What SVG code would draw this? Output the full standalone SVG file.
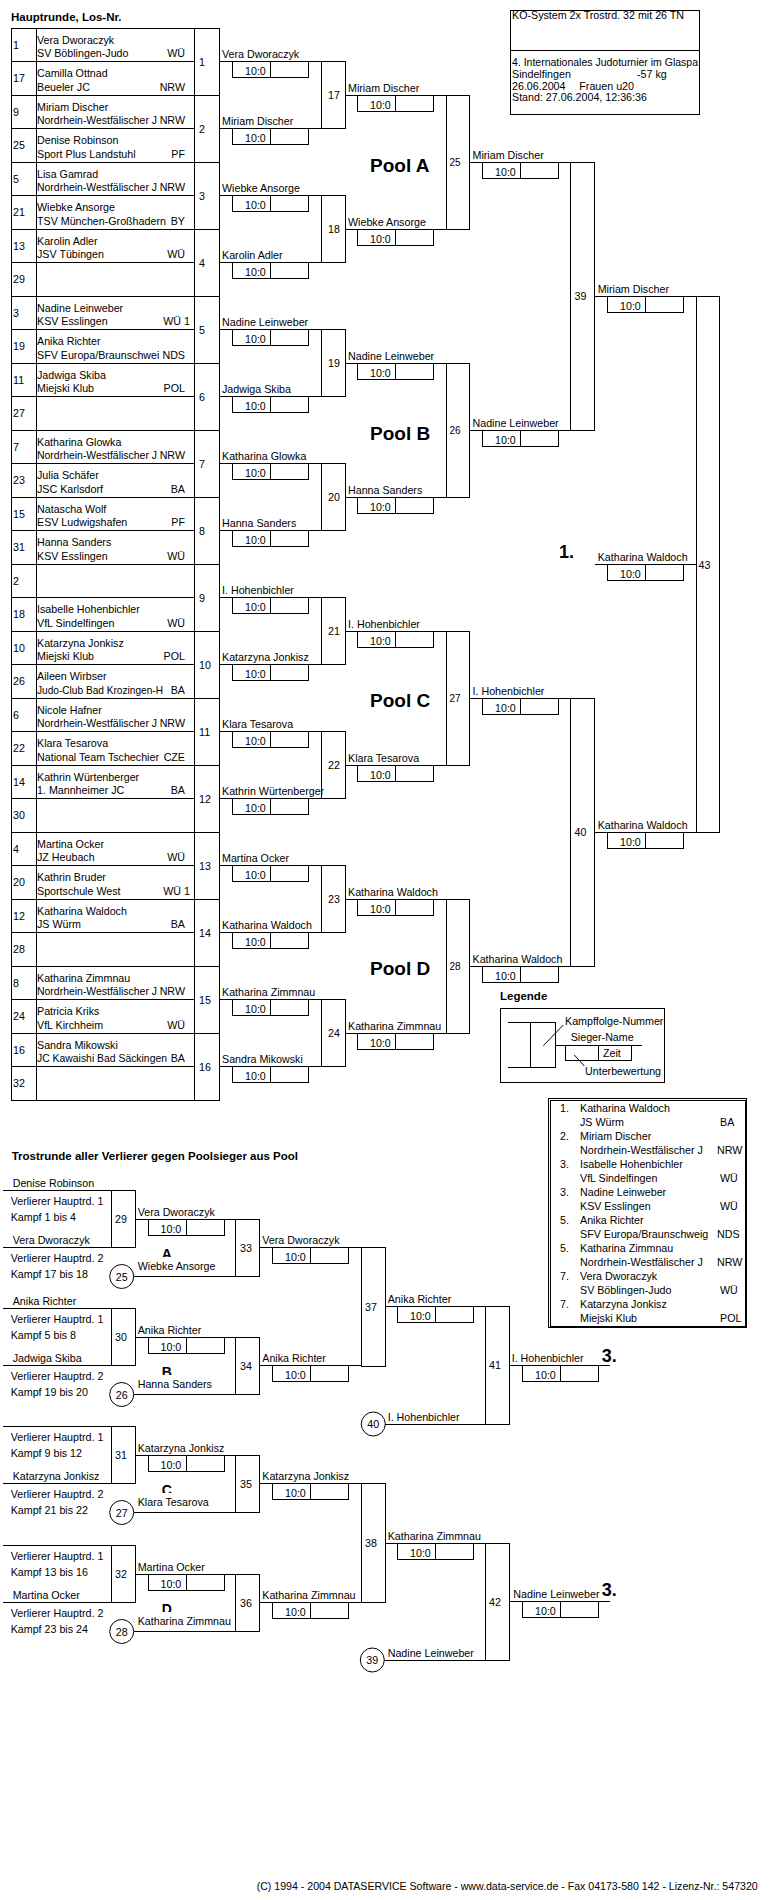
<svg xmlns="http://www.w3.org/2000/svg" width="770" height="1900" viewBox="0 0 770 1900" shape-rendering="crispEdges">
<style>
text{font-family:"Liberation Sans",Arial,Helvetica,sans-serif;font-size:10.7px;fill:#000;stroke:none}
.b{font-weight:bold}
.h{font-weight:bold;font-size:11.5px}
.e{text-anchor:end}
.m{text-anchor:middle}
.k{font-size:10px}
.pool{font-weight:bold;font-size:19px}
.rk{font-weight:bold;font-size:18px}
.pl{font-weight:bold;font-size:14px}
rect,path,circle{fill:none;stroke:#000;stroke-width:1}
circle{shape-rendering:geometricPrecision}
.w{fill:#fff;stroke:none}
</style>
<rect class="w" x="0" y="0" width="770" height="1900"/>

<text class="h" x="11" y="20.5">Hauptrunde, Los-Nr.</text>

<g id="header">
<rect x="510" y="10" width="189" height="104"/>
<path d="M510,50H699"/>
<text x="512" y="18.5">KO-System 2x Trostrd. 32 mit 26 TN</text>
<text x="512" y="66" textLength="186" lengthAdjust="spacingAndGlyphs">4. Internationales Judoturnier im Glaspa</text>
<text x="512" y="78">Sindelfingen</text>
<text x="637" y="78">-57 kg</text>
<text x="512" y="89.5">26.06.2004</text>
<text x="579.3" y="89.5">Frauen u20</text>
<text x="512" y="101">Stand: 27.06.2004, 12:36:36</text>
</g>

<g id="draw-table">
<rect x="11" y="28" width="208" height="1072"/>
<path d="M11,61.5H194M11,95H219M11,128.5H194M11,162H219M11,195.5H194M11,229H219M11,262.5H194M11,296H219M11,329.5H194M11,363H219M11,396.5H194M11,430H219M11,463.5H194M11,497H219M11,530.5H194M11,564H219M11,597.5H194M11,631H219M11,664.5H194M11,698H219M11,731.5H194M11,765H219M11,798.5H194M11,832H219M11,865.5H194M11,899H219M11,932.5H194M11,966H219M11,999.5H194M11,1033H219M11,1066.5H194M36,28V1100M194,28V1100"/>
</g>

<g id="entries">
<g id="los-1" transform="translate(0,28)"><text x="13" y="20.75">1</text><text x="37" y="15.5">Vera Dworaczyk</text><text x="37" y="29">SV Böblingen-Judo</text><text class="e" x="185" y="29">WÜ</text></g>
<g id="los-17" transform="translate(0,61.5)"><text x="13" y="20.75">17</text><text x="37" y="15.5">Camilla Ottnad</text><text x="37" y="29">Beueler JC</text><text class="e" x="185" y="29">NRW</text></g>
<g id="los-9" transform="translate(0,95)"><text x="13" y="20.75">9</text><text x="37" y="15.5">Miriam Discher</text><text x="37" y="29" textLength="120" lengthAdjust="spacingAndGlyphs">Nordrhein-Westfälischer J</text><text class="e" x="185" y="29">NRW</text></g>
<g id="los-25" transform="translate(0,128.5)"><text x="13" y="20.75">25</text><text x="37" y="15.5">Denise Robinson</text><text x="37" y="29">Sport Plus Landstuhl</text><text class="e" x="185" y="29">PF</text></g>
<g id="los-5" transform="translate(0,162)"><text x="13" y="20.75">5</text><text x="37" y="15.5">Lisa Gamrad</text><text x="37" y="29" textLength="120" lengthAdjust="spacingAndGlyphs">Nordrhein-Westfälischer J</text><text class="e" x="185" y="29">NRW</text></g>
<g id="los-21" transform="translate(0,195.5)"><text x="13" y="20.75">21</text><text x="37" y="15.5">Wiebke Ansorge</text><text x="37" y="29">TSV München-Großhadern</text><text class="e" x="185" y="29">BY</text></g>
<g id="los-13" transform="translate(0,229)"><text x="13" y="20.75">13</text><text x="37" y="15.5">Karolin Adler</text><text x="37" y="29">JSV Tübingen</text><text class="e" x="185" y="29">WÜ</text></g>
<g id="los-29" transform="translate(0,262.5)"><text x="13" y="20.75">29</text></g>
<g id="los-3" transform="translate(0,296)"><text x="13" y="20.75">3</text><text x="37" y="15.5">Nadine Leinweber</text><text x="37" y="29">KSV Esslingen</text><text class="e" x="190" y="29">WÜ 1</text></g>
<g id="los-19" transform="translate(0,329.5)"><text x="13" y="20.75">19</text><text x="37" y="15.5">Anika Richter</text><text x="37" y="29">SFV Europa/Braunschwei</text><text class="e" x="185" y="29">NDS</text></g>
<g id="los-11" transform="translate(0,363)"><text x="13" y="20.75">11</text><text x="37" y="15.5">Jadwiga Skiba</text><text x="37" y="29">Miejski Klub</text><text class="e" x="185" y="29">POL</text></g>
<g id="los-27" transform="translate(0,396.5)"><text x="13" y="20.75">27</text></g>
<g id="los-7" transform="translate(0,430)"><text x="13" y="20.75">7</text><text x="37" y="15.5">Katharina Glowka</text><text x="37" y="29" textLength="120" lengthAdjust="spacingAndGlyphs">Nordrhein-Westfälischer J</text><text class="e" x="185" y="29">NRW</text></g>
<g id="los-23" transform="translate(0,463.5)"><text x="13" y="20.75">23</text><text x="37" y="15.5">Julia Schäfer</text><text x="37" y="29">JSC Karlsdorf</text><text class="e" x="185" y="29">BA</text></g>
<g id="los-15" transform="translate(0,497)"><text x="13" y="20.75">15</text><text x="37" y="15.5">Natascha Wolf</text><text x="37" y="29">ESV Ludwigshafen</text><text class="e" x="185" y="29">PF</text></g>
<g id="los-31" transform="translate(0,530.5)"><text x="13" y="20.75">31</text><text x="37" y="15.5">Hanna Sanders</text><text x="37" y="29">KSV Esslingen</text><text class="e" x="185" y="29">WÜ</text></g>
<g id="los-2" transform="translate(0,564)"><text x="13" y="20.75">2</text></g>
<g id="los-18" transform="translate(0,597.5)"><text x="13" y="20.75">18</text><text x="37" y="15.5">Isabelle Hohenbichler</text><text x="37" y="29">VfL Sindelfingen</text><text class="e" x="185" y="29">WÜ</text></g>
<g id="los-10" transform="translate(0,631)"><text x="13" y="20.75">10</text><text x="37" y="15.5">Katarzyna Jonkisz</text><text x="37" y="29">Miejski Klub</text><text class="e" x="185" y="29">POL</text></g>
<g id="los-26" transform="translate(0,664.5)"><text x="13" y="20.75">26</text><text x="37" y="15.5">Aileen Wirbser</text><text x="37" y="29" textLength="126" lengthAdjust="spacingAndGlyphs">Judo-Club Bad Krozingen-H</text><text class="e" x="185" y="29">BA</text></g>
<g id="los-6" transform="translate(0,698)"><text x="13" y="20.75">6</text><text x="37" y="15.5">Nicole Hafner</text><text x="37" y="29" textLength="120" lengthAdjust="spacingAndGlyphs">Nordrhein-Westfälischer J</text><text class="e" x="185" y="29">NRW</text></g>
<g id="los-22" transform="translate(0,731.5)"><text x="13" y="20.75">22</text><text x="37" y="15.5">Klara Tesarova</text><text x="37" y="29">National Team Tschechier</text><text class="e" x="185" y="29">CZE</text></g>
<g id="los-14" transform="translate(0,765)"><text x="13" y="20.75">14</text><text x="37" y="15.5">Kathrin Würtenberger</text><text x="37" y="29">1. Mannheimer JC</text><text class="e" x="185" y="29">BA</text></g>
<g id="los-30" transform="translate(0,798.5)"><text x="13" y="20.75">30</text></g>
<g id="los-4" transform="translate(0,832)"><text x="13" y="20.75">4</text><text x="37" y="15.5">Martina Ocker</text><text x="37" y="29">JZ Heubach</text><text class="e" x="185" y="29">WÜ</text></g>
<g id="los-20" transform="translate(0,865.5)"><text x="13" y="20.75">20</text><text x="37" y="15.5">Kathrin Bruder</text><text x="37" y="29">Sportschule West</text><text class="e" x="190" y="29">WÜ 1</text></g>
<g id="los-12" transform="translate(0,899)"><text x="13" y="20.75">12</text><text x="37" y="15.5">Katharina Waldoch</text><text x="37" y="29">JS Würm</text><text class="e" x="185" y="29">BA</text></g>
<g id="los-28" transform="translate(0,932.5)"><text x="13" y="20.75">28</text></g>
<g id="los-8" transform="translate(0,966)"><text x="13" y="20.75">8</text><text x="37" y="15.5">Katharina Zimmnau</text><text x="37" y="29" textLength="120" lengthAdjust="spacingAndGlyphs">Nordrhein-Westfälischer J</text><text class="e" x="185" y="29">NRW</text></g>
<g id="los-24" transform="translate(0,999.5)"><text x="13" y="20.75">24</text><text x="37" y="15.5">Patricia Kriks</text><text x="37" y="29">VfL Kirchheim</text><text class="e" x="185" y="29">WÜ</text></g>
<g id="los-16" transform="translate(0,1033)"><text x="13" y="20.75">16</text><text x="37" y="15.5">Sandra Mikowski</text><text x="37" y="29" textLength="130" lengthAdjust="spacingAndGlyphs">JC Kawaishi Bad Säckingen</text><text class="e" x="185" y="29">BA</text></g>
<g id="los-32" transform="translate(0,1066.5)"><text x="13" y="20.75">32</text></g>
</g>

<g id="connectors">
<path d="M219,61.5H321M219,128.5H321M219,195.5H321M219,262.5H321M219,329.5H321M219,396.5H321M219,463.5H321M219,530.5H321M219,597.5H321M219,664.5H321M219,731.5H321M219,798.5H321M219,865.5H321M219,932.5H321M219,999.5H321M219,1066.5H321"/>
<path d="M345,95H446M345,229H446M345,363H446M345,497H446M345,631H446M345,765H446M345,899H446M345,1033H446"/>
<path d="M469.5,162H570.5M469.5,430H570.5M469.5,698H570.5M469.5,966H570.5"/>
<path d="M594.5,296H696M594.5,832H696M595,564H696"/>
<path d="M3,1190H111M3,1247.5H111M135,1219H235.7M133.7,1276.5H235.7M259,1247.75H361.7"/>
<path d="M3,1308H111M3,1365.5H111M135,1337H235.7M133.7,1394.5H235.7M259,1365.75H361.7"/>
<path d="M3,1426H111M3,1483.5H111M135,1455H235.7M133.7,1512.5H235.7M259,1483.75H361.7"/>
<path d="M3,1545H111M3,1602.5H111M135,1574H235.7M133.7,1631.5H235.7M259,1602.75H361.7"/>
<path d="M385,1306.75H485M385.3,1424H485M509.3,1365.4H610M385,1543.25H485M384.3,1660H485M509.3,1601.6H610"/>
</g>

<g id="round1">
<g id="k1" transform="translate(0,61.5)"><text x="199" y="4">1</text><text x="222" y="-3.5">Vera Dworaczyk</text><rect x="232" y="0" width="76" height="16"/><path d="M270.5,0V16"/><text x="245" y="13.5">10:0</text></g>
<g id="k2" transform="translate(0,128.5)"><text x="199" y="4">2</text><text x="222" y="-3.5">Miriam Discher</text><rect x="232" y="0" width="76" height="16"/><path d="M270.5,0V16"/><text x="245" y="13.5">10:0</text></g>
<g id="k3" transform="translate(0,195.5)"><text x="199" y="4">3</text><text x="222" y="-3.5">Wiebke Ansorge</text><rect x="232" y="0" width="76" height="16"/><path d="M270.5,0V16"/><text x="245" y="13.5">10:0</text></g>
<g id="k4" transform="translate(0,262.5)"><text x="199" y="4">4</text><text x="222" y="-3.5">Karolin Adler</text><rect x="232" y="0" width="76" height="16"/><path d="M270.5,0V16"/><text x="245" y="13.5">10:0</text></g>
<g id="k5" transform="translate(0,329.5)"><text x="199" y="4">5</text><text x="222" y="-3.5">Nadine Leinweber</text><rect x="232" y="0" width="76" height="16"/><path d="M270.5,0V16"/><text x="245" y="13.5">10:0</text></g>
<g id="k6" transform="translate(0,396.5)"><text x="199" y="4">6</text><text x="222" y="-3.5">Jadwiga Skiba</text><rect x="232" y="0" width="76" height="16"/><path d="M270.5,0V16"/><text x="245" y="13.5">10:0</text></g>
<g id="k7" transform="translate(0,463.5)"><text x="199" y="4">7</text><text x="222" y="-3.5">Katharina Glowka</text><rect x="232" y="0" width="76" height="16"/><path d="M270.5,0V16"/><text x="245" y="13.5">10:0</text></g>
<g id="k8" transform="translate(0,530.5)"><text x="199" y="4">8</text><text x="222" y="-3.5">Hanna Sanders</text><rect x="232" y="0" width="76" height="16"/><path d="M270.5,0V16"/><text x="245" y="13.5">10:0</text></g>
<g id="k9" transform="translate(0,597.5)"><text x="199" y="4">9</text><text x="222" y="-3.5">I. Hohenbichler</text><rect x="232" y="0" width="76" height="16"/><path d="M270.5,0V16"/><text x="245" y="13.5">10:0</text></g>
<g id="k10" transform="translate(0,664.5)"><text x="199" y="4">10</text><text x="222" y="-3.5">Katarzyna Jonkisz</text><rect x="232" y="0" width="76" height="16"/><path d="M270.5,0V16"/><text x="245" y="13.5">10:0</text></g>
<g id="k11" transform="translate(0,731.5)"><text x="199" y="4">11</text><text x="222" y="-3.5">Klara Tesarova</text><rect x="232" y="0" width="76" height="16"/><path d="M270.5,0V16"/><text x="245" y="13.5">10:0</text></g>
<g id="k12" transform="translate(0,798.5)"><text x="199" y="4">12</text><text x="222" y="-3.5">Kathrin Würtenberger</text><rect x="232" y="0" width="76" height="16"/><path d="M270.5,0V16"/><text x="245" y="13.5">10:0</text></g>
<g id="k13" transform="translate(0,865.5)"><text x="199" y="4">13</text><text x="222" y="-3.5">Martina Ocker</text><rect x="232" y="0" width="76" height="16"/><path d="M270.5,0V16"/><text x="245" y="13.5">10:0</text></g>
<g id="k14" transform="translate(0,932.5)"><text x="199" y="4">14</text><text x="222" y="-3.5">Katharina Waldoch</text><rect x="232" y="0" width="76" height="16"/><path d="M270.5,0V16"/><text x="245" y="13.5">10:0</text></g>
<g id="k15" transform="translate(0,999.5)"><text x="199" y="4">15</text><text x="222" y="-3.5">Katharina Zimmnau</text><rect x="232" y="0" width="76" height="16"/><path d="M270.5,0V16"/><text x="245" y="13.5">10:0</text></g>
<g id="k16" transform="translate(0,1066.5)"><text x="199" y="4">16</text><text x="222" y="-3.5">Sandra Mikowski</text><rect x="232" y="0" width="76" height="16"/><path d="M270.5,0V16"/><text x="245" y="13.5">10:0</text></g>
</g>

<g id="round2">
<g id="k17" transform="translate(0,95)"><rect x="321" y="-33.5" width="24" height="67"/><text x="328" y="4">17</text><text x="348" y="-3.5">Miriam Discher</text><rect x="357" y="0" width="76" height="16"/><path d="M395.5,0V16"/><text x="370" y="13.5">10:0</text></g>
<g id="k18" transform="translate(0,229)"><rect x="321" y="-33.5" width="24" height="67"/><text x="328" y="4">18</text><text x="348" y="-3.5">Wiebke Ansorge</text><rect x="357" y="0" width="76" height="16"/><path d="M395.5,0V16"/><text x="370" y="13.5">10:0</text></g>
<g id="k19" transform="translate(0,363)"><rect x="321" y="-33.5" width="24" height="67"/><text x="328" y="4">19</text><text x="348" y="-3.5">Nadine Leinweber</text><rect x="357" y="0" width="76" height="16"/><path d="M395.5,0V16"/><text x="370" y="13.5">10:0</text></g>
<g id="k20" transform="translate(0,497)"><rect x="321" y="-33.5" width="24" height="67"/><text x="328" y="4">20</text><text x="348" y="-3.5">Hanna Sanders</text><rect x="357" y="0" width="76" height="16"/><path d="M395.5,0V16"/><text x="370" y="13.5">10:0</text></g>
<g id="k21" transform="translate(0,631)"><rect x="321" y="-33.5" width="24" height="67"/><text x="328" y="4">21</text><text x="348" y="-3.5">I. Hohenbichler</text><rect x="357" y="0" width="76" height="16"/><path d="M395.5,0V16"/><text x="370" y="13.5">10:0</text></g>
<g id="k22" transform="translate(0,765)"><rect x="321" y="-33.5" width="24" height="67"/><text x="328" y="4">22</text><text x="348" y="-3.5">Klara Tesarova</text><rect x="357" y="0" width="76" height="16"/><path d="M395.5,0V16"/><text x="370" y="13.5">10:0</text></g>
<g id="k23" transform="translate(0,899)"><rect x="321" y="-33.5" width="24" height="67"/><text x="328" y="4">23</text><text x="348" y="-3.5">Katharina Waldoch</text><rect x="357" y="0" width="76" height="16"/><path d="M395.5,0V16"/><text x="370" y="13.5">10:0</text></g>
<g id="k24" transform="translate(0,1033)"><rect x="321" y="-33.5" width="24" height="67"/><text x="328" y="4">24</text><text x="348" y="-3.5">Katharina Zimmnau</text><rect x="357" y="0" width="76" height="16"/><path d="M395.5,0V16"/><text x="370" y="13.5">10:0</text></g>
</g>

<g id="round3">
<g id="k25" transform="translate(0,162)"><rect x="446" y="-67" width="23.5" height="134"/><text class="k" x="449.5" y="4">25</text><text x="472.5" y="-3.5">Miriam Discher</text><rect x="482.5" y="0" width="76" height="16"/><path d="M520.7,0V16"/><text x="495" y="13.5">10:0</text></g>
<g id="k26" transform="translate(0,430)"><rect x="446" y="-67" width="23.5" height="134"/><text class="k" x="449.5" y="4">26</text><text x="472.5" y="-3.5">Nadine Leinweber</text><rect x="482.5" y="0" width="76" height="16"/><path d="M520.7,0V16"/><text x="495" y="13.5">10:0</text></g>
<g id="k27" transform="translate(0,698)"><rect x="446" y="-67" width="23.5" height="134"/><text class="k" x="449.5" y="4">27</text><text x="472.5" y="-3.5">I. Hohenbichler</text><rect x="482.5" y="0" width="76" height="16"/><path d="M520.7,0V16"/><text x="495" y="13.5">10:0</text></g>
<g id="k28" transform="translate(0,966)"><rect x="446" y="-67" width="23.5" height="134"/><text class="k" x="449.5" y="4">28</text><text x="472.5" y="-3.5">Katharina Waldoch</text><rect x="482.5" y="0" width="76" height="16"/><path d="M520.7,0V16"/><text x="495" y="13.5">10:0</text></g>
</g>

<g id="round4">
<g id="k39" transform="translate(0,296)"><rect x="570.5" y="-134" width="24" height="268"/><text x="574.5" y="4">39</text><text x="597.7" y="-3.5">Miriam Discher</text><rect x="607.5" y="0" width="76" height="16"/><path d="M645.7,0V16"/><text x="620" y="13.5">10:0</text></g>
<g id="k40" transform="translate(0,832)"><rect x="570.5" y="-134" width="24" height="268"/><text x="574.5" y="4">40</text><text x="597.7" y="-3.5">Katharina Waldoch</text><rect x="607.5" y="0" width="76" height="16"/><path d="M645.7,0V16"/><text x="620" y="13.5">10:0</text></g>
</g>

<g id="final">
<g id="k43" transform="translate(0,564)"><rect x="696" y="-268" width="23.5" height="536"/><text x="698.5" y="5">43</text><text x="597.7" y="-3.5">Katharina Waldoch</text><rect x="607.5" y="0" width="76" height="16"/><path d="M645.7,0V16"/><text x="620" y="13.5">10:0</text><text class="rk" x="559" y="-6">1.</text></g>
</g>

<g id="pools">
<text class="pool" x="370" y="171.5">Pool A</text>
<text class="pool" x="370" y="439.5">Pool B</text>
<text class="pool" x="370" y="706.5">Pool C</text>
<text class="pool" x="370" y="974.5">Pool D</text>
</g>

<g id="legende">
<text class="h" x="500" y="1000">Legende</text>
<rect x="500.3" y="1008.3" width="164" height="74"/>
<path d="M507.7,1022.7H530.7M507.7,1067.3H530.7M555,1045H641.7M598.3,1045V1060"/>
<rect x="530.7" y="1022.7" width="24.3" height="44.6"/>
<rect x="565.3" y="1045" width="66.4" height="15"/>
<path d="M543.3,1045.7L563.3,1025M574.3,1055L584.3,1066" shape-rendering="geometricPrecision"/>
<text x="565" y="1024.5">Kampffolge-Nummer</text>
<text x="570.7" y="1041">Sieger-Name</text>
<text x="603" y="1057">Zeit</text>
<text x="585" y="1075">Unterbewertung</text>
</g>

<g id="ranking">
<rect x="548.3" y="1098.3" width="198.4" height="229.4"/>
<rect x="550.3" y="1100.3" width="194.7" height="225.7"/>
<text x="560" y="1112">1.</text><text x="580" y="1112">Katharina Waldoch</text>
<text x="580" y="1126">JS Würm</text><text x="720" y="1126">BA</text>
<text x="560" y="1140">2.</text><text x="580" y="1140">Miriam Discher</text>
<text x="580" y="1154">Nordrhein-Westfälischer J</text><text x="717" y="1154">NRW</text>
<text x="560" y="1168">3.</text><text x="580" y="1168">Isabelle Hohenbichler</text>
<text x="580" y="1182">VfL Sindelfingen</text><text x="720" y="1182">WÜ</text>
<text x="560" y="1196">3.</text><text x="580" y="1196">Nadine Leinweber</text>
<text x="580" y="1210">KSV Esslingen</text><text x="720" y="1210">WÜ</text>
<text x="560" y="1224">5.</text><text x="580" y="1224">Anika Richter</text>
<text x="580" y="1238">SFV Europa/Braunschweig</text><text x="717" y="1238">NDS</text>
<text x="560" y="1252">5.</text><text x="580" y="1252">Katharina Zimmnau</text>
<text x="580" y="1266">Nordrhein-Westfälischer J</text><text x="717" y="1266">NRW</text>
<text x="560" y="1280">7.</text><text x="580" y="1280">Vera Dworaczyk</text>
<text x="580" y="1294">SV Böblingen-Judo</text><text x="720" y="1294">WÜ</text>
<text x="560" y="1308">7.</text><text x="580" y="1308">Katarzyna Jonkisz</text>
<text x="580" y="1322">Miejski Klub</text><text x="720" y="1322">POL</text>
</g>

<text class="h" x="11.7" y="1160">Trostrunde aller Verlierer gegen Poolsieger aus Pool</text>

<g id="trost-29" transform="translate(0,1190)">
<text x="12.7" y="-3.5">Denise Robinson</text>
<text x="10.7" y="14.8">Verlierer Hauptrd. 1</text>
<text x="10.7" y="30.6">Kampf 1 bis 4</text>
<text x="12.7" y="53.5">Vera Dworaczyk</text>
<text x="10.7" y="72">Verlierer Hauptrd. 2</text>
<text x="10.7" y="87.5">Kampf 17 bis 18</text>
<rect x="111" y="0" width="24" height="57.5"/>
<text x="115" y="33">29</text>
<text x="137.7" y="25.5">Vera Dworaczyk</text>
<rect x="148" y="29" width="76" height="16"/><path d="M186,29V45"/><text x="160.5" y="42.5">10:0</text>
<circle cx="121.7" cy="86.5" r="12"/><text class="m" x="121.7" y="90.5">25</text>
<text class="pl" x="161.7" y="68.7">A</text>
<rect class="w" x="137" y="67" width="95" height="16"/>
<text x="137.7" y="80">Wiebke Ansorge</text>
</g>
<g id="trost-33" transform="translate(0,1190)">
<rect x="235.7" y="29" width="23.3" height="57.5"/>
<text x="240" y="61.75">33</text>
<text x="262.3" y="54.25">Vera Dworaczyk</text>
<rect x="272.7" y="57.75" width="76" height="16"/><path d="M310.7,57.75V73.75"/><text x="285" y="71.25">10:0</text>
</g>

<g id="trost-30" transform="translate(0,1308)">
<text x="12.7" y="-3.5">Anika Richter</text>
<text x="10.7" y="14.8">Verlierer Hauptrd. 1</text>
<text x="10.7" y="30.6">Kampf 5 bis 8</text>
<text x="12.7" y="53.5">Jadwiga Skiba</text>
<text x="10.7" y="72">Verlierer Hauptrd. 2</text>
<text x="10.7" y="87.5">Kampf 19 bis 20</text>
<rect x="111" y="0" width="24" height="57.5"/>
<text x="115" y="33">30</text>
<text x="137.7" y="25.5">Anika Richter</text>
<rect x="148" y="29" width="76" height="16"/><path d="M186,29V45"/><text x="160.5" y="42.5">10:0</text>
<circle cx="121.7" cy="86.5" r="12"/><text class="m" x="121.7" y="90.5">26</text>
<text class="pl" x="161.7" y="68.7">B</text>
<rect class="w" x="137" y="67" width="95" height="16"/>
<text x="137.7" y="80">Hanna Sanders</text>
</g>
<g id="trost-34" transform="translate(0,1308)">
<rect x="235.7" y="29" width="23.3" height="57.5"/>
<text x="240" y="61.75">34</text>
<text x="262.3" y="54.25">Anika Richter</text>
<rect x="272.7" y="57.75" width="76" height="16"/><path d="M310.7,57.75V73.75"/><text x="285" y="71.25">10:0</text>
</g>

<g id="trost-31" transform="translate(0,1426)">
<text x="10.7" y="14.8">Verlierer Hauptrd. 1</text>
<text x="10.7" y="30.6">Kampf 9 bis 12</text>
<text x="12.7" y="53.5">Katarzyna Jonkisz</text>
<text x="10.7" y="72">Verlierer Hauptrd. 2</text>
<text x="10.7" y="87.5">Kampf 21 bis 22</text>
<rect x="111" y="0" width="24" height="57.5"/>
<text x="115" y="33">31</text>
<text x="137.7" y="25.5">Katarzyna Jonkisz</text>
<rect x="148" y="29" width="76" height="16"/><path d="M186,29V45"/><text x="160.5" y="42.5">10:0</text>
<circle cx="121.7" cy="86.5" r="12"/><text class="m" x="121.7" y="90.5">27</text>
<text class="pl" x="161.7" y="68.7">C</text>
<rect class="w" x="137" y="67" width="95" height="16"/>
<text x="137.7" y="80">Klara Tesarova</text>
</g>
<g id="trost-35" transform="translate(0,1426)">
<rect x="235.7" y="29" width="23.3" height="57.5"/>
<text x="240" y="61.75">35</text>
<text x="262.3" y="54.25">Katarzyna Jonkisz</text>
<rect x="272.7" y="57.75" width="76" height="16"/><path d="M310.7,57.75V73.75"/><text x="285" y="71.25">10:0</text>
</g>

<g id="trost-32" transform="translate(0,1545)">
<text x="10.7" y="14.8">Verlierer Hauptrd. 1</text>
<text x="10.7" y="30.6">Kampf 13 bis 16</text>
<text x="12.7" y="53.5">Martina Ocker</text>
<text x="10.7" y="72">Verlierer Hauptrd. 2</text>
<text x="10.7" y="87.5">Kampf 23 bis 24</text>
<rect x="111" y="0" width="24" height="57.5"/>
<text x="115" y="33">32</text>
<text x="137.7" y="25.5">Martina Ocker</text>
<rect x="148" y="29" width="76" height="16"/><path d="M186,29V45"/><text x="160.5" y="42.5">10:0</text>
<circle cx="121.7" cy="86.5" r="12"/><text class="m" x="121.7" y="90.5">28</text>
<text class="pl" x="161.7" y="68.7">D</text>
<rect class="w" x="137" y="67" width="95" height="16"/>
<text x="137.7" y="80">Katharina Zimmnau</text>
</g>
<g id="trost-36" transform="translate(0,1545)">
<rect x="235.7" y="29" width="23.3" height="57.5"/>
<text x="240" y="61.75">36</text>
<text x="262.3" y="54.25">Katharina Zimmnau</text>
<rect x="272.7" y="57.75" width="76" height="16"/><path d="M310.7,57.75V73.75"/><text x="285" y="71.25">10:0</text>
</g>

<g id="trost-37">
<rect x="361.7" y="1247.75" width="23.3" height="119"/>
<text x="365" y="1311">37</text>
<text x="387.7" y="1303.25">Anika Richter</text>
<rect x="397.3" y="1306.75" width="76" height="16"/><path d="M435.7,1306.75V1322.75"/><text x="410" y="1320.25">10:0</text>
</g>
<g id="trost-40">
<circle cx="373.3" cy="1424" r="12"/><text class="m" x="373.3" y="1428">40</text>
<text x="387.7" y="1420.5">I. Hohenbichler</text>
</g>
<g id="trost-41">
<rect x="485" y="1306.75" width="24.3" height="117.25"/>
<text x="489" y="1369.4">41</text>
<text x="511.7" y="1361.9">I. Hohenbichler</text>
<rect x="522.3" y="1365.4" width="76" height="16"/><path d="M560.7,1365.4V1381.4"/><text x="535" y="1378.9">10:0</text>
<text class="rk" x="601.7" y="1362.3">3.</text>
</g>
<g id="trost-38">
<rect x="361.7" y="1483.75" width="23.3" height="119"/>
<text x="365" y="1547.25">38</text>
<text x="387.7" y="1539.75">Katharina Zimmnau</text>
<rect x="397.3" y="1543.25" width="76" height="16"/><path d="M435.7,1543.25V1559.25"/><text x="410" y="1556.75">10:0</text>
</g>
<g id="trost-39">
<circle cx="372.3" cy="1660" r="12"/><text class="m" x="372.3" y="1664">39</text>
<text x="387.7" y="1656.5">Nadine Leinweber</text>
</g>
<g id="trost-42">
<rect x="485" y="1543.25" width="24.3" height="116.75"/>
<text x="489" y="1605.6">42</text>
<text x="513.3" y="1598.1">Nadine Leinweber</text>
<rect x="522.3" y="1601.6" width="76" height="16"/><path d="M560.7,1601.6V1617.6"/><text x="535" y="1615.1">10:0</text>
<text class="rk" x="601.7" y="1596">3.</text>
</g>

<text x="256.7" y="1890" textLength="501" lengthAdjust="spacingAndGlyphs">(C) 1994 - 2004 DATASERVICE Software - www.data-service.de - Fax 04173-580 142 - Lizenz-Nr.: 547320</text>
</svg>
